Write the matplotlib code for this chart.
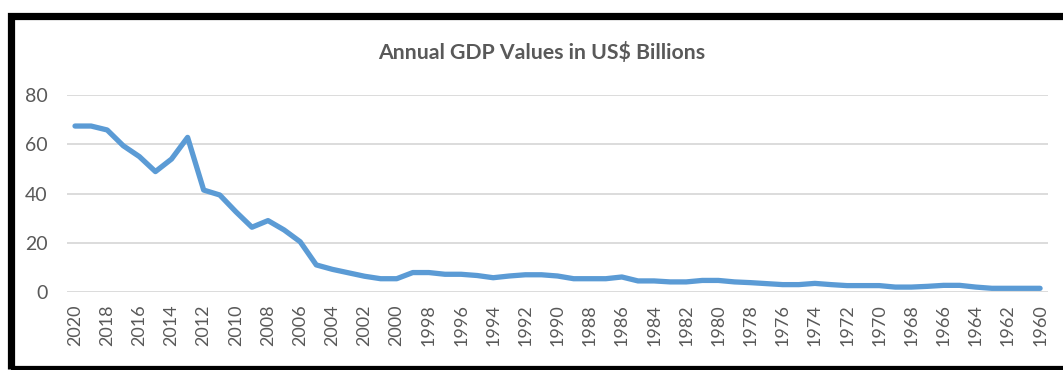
import matplotlib.pyplot as plt
from matplotlib.patches import Rectangle

# GDP in US$ billions, newest year first (as plotted left to right)
years = list(range(2020, 1959, -1))
gdp = [67.4, 67.4, 65.8, 59.4, 55.0, 48.9, 54.0, 62.8, 41.4, 39.4,
       32.6, 26.3, 29.0, 25.2, 20.4, 11.0, 9.2, 7.8, 6.4, 5.4,
       5.4, 7.9, 7.9, 7.2, 7.2, 6.7, 5.8, 6.5, 7.0, 7.0,
       6.5, 5.4, 5.4, 5.4, 6.1, 4.5, 4.5, 4.1, 4.1, 4.7,
       4.7, 4.1, 3.8, 3.4, 3.0, 3.0, 3.5, 3.0, 2.6, 2.6,
       2.6, 2.0, 2.0, 2.3, 2.7, 2.7, 2.0, 1.5, 1.5, 1.5,
       1.5]
y_ticks = [0, 20, 40, 60, 80]
title = "Annual GDP Values in US$ Billions"

plt.rcParams['font.family'] = ['Lato', 'DejaVu Sans']
grey = "#595959"

fig = plt.figure(figsize=(10.63, 3.70), dpi=100)
ax = fig.add_axes([0.063, 0.2108, 0.923, 0.5324])

x = list(range(len(years)))
ax.plot(x, gdp, color="#5B9BD5", linewidth=3.8,
        solid_joinstyle="round", solid_capstyle="round", zorder=3)

ax.set_xlim(-0.5, len(years) - 0.5)
ax.set_ylim(0, 80)
ax.set_yticks(y_ticks)
ax.set_yticklabels([str(v) for v in y_ticks], color=grey, fontsize=14)
ax.set_xticks(x[::2])
ax.set_xticklabels([str(y) for y in years[::2]], rotation=90,
                   color=grey, fontsize=13)
ax.tick_params(axis="both", length=0)
ax.tick_params(axis="y", pad=14)
ax.tick_params(axis="x", pad=9)

ax.grid(axis="y", color="#D9D9D9", linewidth=1.3, zorder=0)
for s in ax.spines.values():
    s.set_visible(False)

fig.text(0.51, 0.857, title, ha="center", va="center",
         fontsize=15.3, fontweight="bold", color=grey)

# thick black frame around the chart
frame = Rectangle((11 / 1063, 1 / 370), 1.1, 353 / 370,
                  transform=fig.transFigure, fill=False,
                  edgecolor="black", linewidth=5.2, clip_on=False)
fig.add_artist(frame)

fig.savefig("out.png", dpi=100)
